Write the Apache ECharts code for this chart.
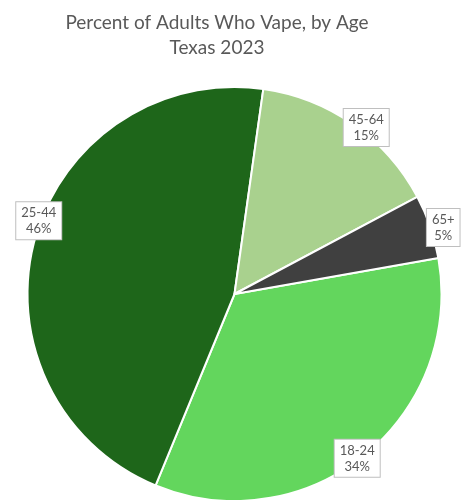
<!DOCTYPE html>
<html>
<head>
<meta charset="utf-8">
<script src="https://cdn.jsdelivr.net/npm/echarts@6/dist/echarts.min.js"></script>
<style>
  html, body { margin: 0; padding: 0; background: #fff; }
  #chart { width: 469px; height: 500px; }
</style>
</head>
<body>
<div id="chart"></div>
<script>
// Age groups and their share of adult vapers (percent)
const ageGroups = ['18-24', '25-44', '45-64', '65+'];
const percents = [34, 46, 15, 5];
const sliceColors = ['#63D65D', '#1E661A', '#A9D18E', '#404040'];

// Pie geometry
const cx = 234.5, cy = 294, R = 207;
const startAngle = 10; // degrees, counter-clockwise from 3 o'clock
// small per-label nudges from the rim point at each slice's middle
const labelNudge = [[-7, 3], [4, -19], [13, 3], [13, 1]];

const total = percents.reduce((a, b) => a + b, 0);
// middle angle of each slice, clockwise from 12 o'clock, in radians
const midAngles = [];
let acc = 90 - startAngle;
percents.forEach(v => {
  const span = v / total * 360;
  midAngles.push((acc + span / 2) * Math.PI / 180);
  acc += span;
});

const chart = echarts.init(document.getElementById('chart'), null, { renderer: 'canvas' });
chart.setOption({
  animation: false,
  title: {
    text: 'Percent of Adults Who Vape, by Age\nTexas 2023',
    left: 212,
    top: 5,
    textAlign: 'center',
    textStyle: {
      fontFamily: 'Lato',
      fontSize: 19,
      fontWeight: 'normal',
      color: '#595959',
      lineHeight: 25
    }
  },
  series: [{
    type: 'pie',
    center: [cx, cy],
    radius: R,
    startAngle: startAngle,
    clockwise: true,
    avoidLabelOverlap: false,
    itemStyle: { borderColor: '#ffffff', borderWidth: 2 },
    label: {
      show: true,
      position: 'inside',
      formatter: p => p.name + '\n' + p.value + '%',
      fontFamily: 'Lato',
      fontSize: 13,
      lineHeight: 16,
      color: '#595959',
      backgroundColor: '#ffffff',
      borderColor: '#BFBFBF',
      borderWidth: 1,
      padding: [3, 5, 2, 5],
      align: 'center'
    },
    labelLine: { show: false },
    labelLayout: function (p) {
      const i = p.dataIndex;
      const a = midAngles[i];
      return {
        x: cx + R * Math.sin(a) + labelNudge[i][0],
        y: cy - R * Math.cos(a) + labelNudge[i][1],
        align: 'center',
        verticalAlign: 'middle'
      };
    },
    emphasis: { disabled: true },
    data: ageGroups.map((g, i) => ({
      name: g,
      value: percents[i],
      itemStyle: { color: sliceColors[i] }
    }))
  }]
});
</script>
</body>
</html>
